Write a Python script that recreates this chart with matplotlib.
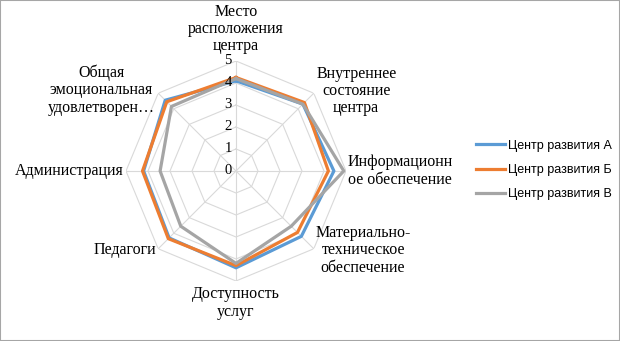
import numpy as np
import matplotlib.pyplot as plt
from matplotlib.patches import Rectangle

categories = ["Место\nрасположения\nцентра", "Внутреннее\nсостояние\nцентра",
              "Информационн\nое обеспечение", "Материально-\nтехническое\nобеспечение",
              "Доступность\nуслуг", "Педагоги", "Администрация",
              "Общая\nэмоциональная\nудовлетворен…"]
series_names = ["Центр развития А", "Центр развития Б", "Центр развития В"]
center_a = [4.1, 4.3, 4.45, 4.2, 4.4, 4.3, 4.2, 4.55]
center_b = [4.25, 4.4, 4.2, 3.95, 4.3, 4.35, 4.25, 4.45]
center_v = [4.2, 4.3, 4.9, 3.55, 4.2, 3.55, 3.45, 4.15]
levels = [0, 1, 2, 3, 4, 5]

colors = ["#5B9BD5", "#ED7D31", "#A5A5A5"]
grid_color = "#D9D9D9"
serif = ["Liberation Serif", "DejaVu Serif"]

fig = plt.figure(figsize=(6.2, 3.41), dpi=100)
fig.patches.append(Rectangle((0, 0), 1, 1, transform=fig.transFigure,
                             fill=False, ec="#A6A6A6", lw=1.5))

ax = fig.add_axes([126 / 620, 60 / 341, 220 / 620, 220 / 341], projection="polar")
ax.set_theta_offset(np.pi / 2)
ax.set_theta_direction(-1)
ax.set_ylim(0, 5)
ax.grid(False)
ax.spines["polar"].set_visible(False)
ax.set_xticks([])
ax.set_yticks([])
ax.patch.set_alpha(0)

n = len(categories)
angles = np.linspace(0, 2 * np.pi, n, endpoint=False)
closed = np.append(angles, angles[0])

# octagon grid
for k in levels[1:]:
    ax.plot(closed, [k] * (n + 1), color=grid_color, lw=0.8, zorder=1)
for a in angles:
    ax.plot([a, a], [0, 5], color=grid_color, lw=0.8, zorder=1)

for vals, col, name in zip([center_a, center_b, center_v], colors, series_names):
    ax.plot(closed, vals + vals[:1], color=col, lw=2.3, label=name, zorder=3)

for k in levels:
    ax.annotate(str(k), (0, k), xytext=(-3, 0), textcoords="offset points",
                ha="right", va="center", fontsize=10.5, family=serif, zorder=4)

# category labels
label_pos = [
    (5.3, "center", "bottom"),
    (5.15, "left", "center"),
    (5.05, "left", "center"),
    (5.1, "left", "center"),
    (5.25, "center", "top"),
    (5.1, "right", "center"),
    (5.1, "right", "center"),
    (5.2, "right", "center"),
]
for a, cat, (r, ha, va) in zip(angles, categories, label_pos):
    ax.text(a, r, cat, ha=ha, va=va, multialignment="center",
            fontsize=11.5, family=serif, linespacing=1.1)

fig.legend(loc="center left", bbox_to_anchor=(465 / 620, 1 - 170 / 341),
           frameon=False, handlelength=2.3, handletextpad=0.25,
           labelspacing=1.0, prop={"family": ["Liberation Sans", "DejaVu Sans"], "size": 9})

fig.savefig("out.png", dpi=100)
